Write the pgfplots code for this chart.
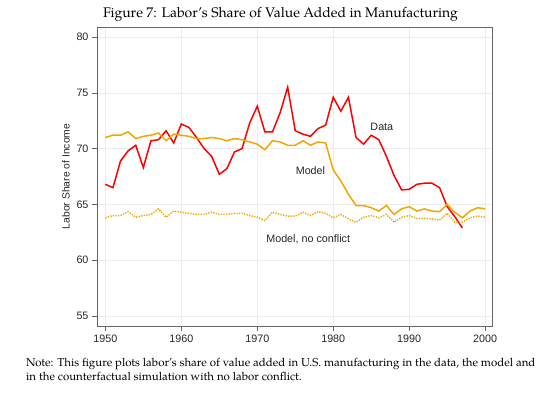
\documentclass[border=0pt]{standalone}
\usepackage{fontspec}
\setmainfont{Liberation Sans}
\newfontfamily\pal{TeX Gyre Pagella}
\usepackage{pgfplots}
\pgfplotsset{compat=1.18}
\definecolor{dred}{RGB}{255,0,0}
\definecolor{dorange}{RGB}{240,168,0}
\begin{document}
\begin{tikzpicture}[x=1bp,y=1bp]
\path[use as bounding box] (-97bp,-68bp) rectangle (457bp,326bp);
\begin{axis}[
  at={(0,0)}, anchor=south west,
  scale only axis, width=395bp, height=299bp,
  xmin=1948.9, xmax=2000.9, ymin=54.1, ymax=80.9,
  xtick={1950,1960,1970,1980,1990,2000},
  ytick={55,60,65,70,75,80},
  xtick pos=bottom, ytick pos=left,
  tick align=outside,
  major tick length=5bp,
  every tick/.style={gray!80!black, line width=0.6bp},
  axis line style={gray!80!black, line width=0.6bp},
  grid=major,
  grid style={gray!15, line width=0.6bp},
  /pgf/number format/1000 sep={},
  /pgf/number format/assume math mode=true,
  tick label style={font=\fontsize{10.8}{13}\selectfont, black!85},
  ylabel={Labor Share of Income},
  ylabel style={font=\fontsize{10.4}{12}\selectfont, black!85},
  clip=false,
]
\addplot[dred, line width=1.5bp] coordinates {
(1950,66.8)(1951,66.5)(1952,68.9)(1953,69.8)(1954,70.3)(1955,68.3)(1956,70.7)(1957,70.8)(1958,71.6)(1959,70.5)
(1960,72.2)(1961,71.9)(1962,71.0)(1963,70.0)(1964,69.3)(1965,67.7)(1966,68.2)(1967,69.7)(1968,70.0)(1969,72.3)
(1970,73.8)(1971,71.5)(1972,71.5)(1973,73.2)(1974,75.5)(1975,71.6)(1976,71.3)(1977,71.1)(1978,71.8)(1979,72.1)
(1980,74.6)(1981,73.35)(1982,74.6)(1983,71.0)(1984,70.4)(1985,71.2)(1986,70.8)(1987,69.3)(1988,67.6)(1989,66.3)
(1990,66.35)(1991,66.8)(1992,66.9)(1993,66.9)(1994,66.5)(1995,64.8)(1996,63.9)(1997,62.9)
};
\addplot[dorange, line width=1.5bp] coordinates {
(1950,71.0)(1951,71.2)(1952,71.2)(1953,71.5)(1954,70.9)(1955,71.1)(1956,71.2)(1957,71.4)(1958,70.7)(1959,71.3)
(1960,71.2)(1961,71.1)(1962,70.9)(1963,70.9)(1964,71.0)(1965,70.9)(1966,70.7)(1967,70.9)(1968,70.8)(1969,70.6)
(1970,70.4)(1971,69.9)(1972,70.7)(1973,70.6)(1974,70.3)(1975,70.3)(1976,70.7)(1977,70.3)(1978,70.6)(1979,70.5)
(1980,68.1)(1981,67.1)(1982,65.9)(1983,64.9)(1984,64.9)(1985,64.7)(1986,64.4)(1987,64.9)(1988,64.1)(1989,64.6)
(1990,64.8)(1991,64.4)(1992,64.6)(1993,64.4)(1994,64.35)(1995,65.0)(1996,64.3)(1997,63.8)(1998,64.4)(1999,64.7)(2000,64.6)
};
\addplot[dorange, line width=1.5bp, dash pattern=on 1.3bp off 1.3bp] coordinates {
(1950,63.8)(1951,64.0)(1952,64.0)(1953,64.35)(1954,63.85)(1955,64.0)(1956,64.1)(1957,64.6)(1958,63.85)(1959,64.4)
(1960,64.3)(1961,64.2)(1962,64.1)(1963,64.1)(1964,64.3)(1965,64.1)(1966,64.1)(1967,64.2)(1968,64.2)(1969,64.0)
(1970,63.85)(1971,63.55)(1972,64.3)(1973,64.1)(1974,63.95)(1975,63.95)(1976,64.3)(1977,64.0)(1978,64.35)(1979,64.2)
(1980,63.8)(1981,64.1)(1982,63.7)(1983,63.4)(1984,63.85)(1985,64.0)(1986,63.8)(1987,64.1)(1988,63.4)(1989,63.85)
(1990,64.0)(1991,63.75)(1992,63.75)(1993,63.7)(1994,63.6)(1995,64.2)(1996,63.4)(1997,63.4)(1998,63.8)(1999,63.95)(2000,63.85)
};
\node[font=\fontsize{10.8}{13}\selectfont, black!85] at (axis cs:1986.4,71.93) {Data};
\node[font=\fontsize{10.8}{13}\selectfont, black!85] at (axis cs:1977.0,67.98) {Model};
\node[font=\fontsize{10.8}{13}\selectfont, black!85] at (axis cs:1976.7,61.9) {Model, no conflict};
\end{axis}
\node[font=\pal\fontsize{14}{16}\selectfont] at (183.5bp,312bp) {Figure 7: Labor\kern0.5pt’s Share of Value Added in Manufacturing};
\node[font=\pal\fontsize{11.5}{14.5}\selectfont, anchor=north west, align=left, inner sep=0pt] at (-71bp,-32bp)
  {Note: This figure plots labor’s share of value added in U.S. manufacturing in the data, the model and\\
   in the counterfactual simulation with no labor conflict.};
\end{tikzpicture}
\end{document}
